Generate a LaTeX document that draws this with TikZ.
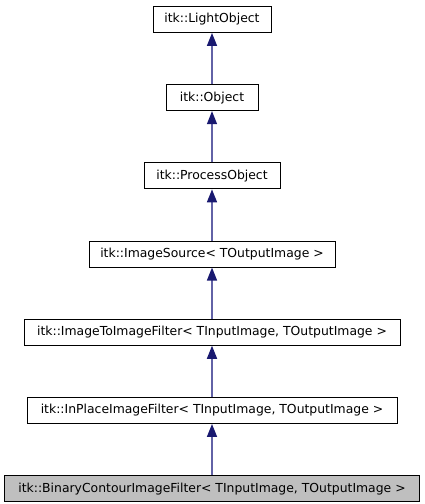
\documentclass[tikz,border=0pt]{standalone}
\usepackage{fontspec}
\setmainfont{DejaVu Sans}
\usepackage{tikz}
\usetikzlibrary{arrows.meta,positioning}
\usepackage{xcolor}
\definecolor{edgenavy}{HTML}{191970}
\definecolor{edgeline}{HTML}{6262A6}
\definecolor{basegray}{HTML}{BFBFBF}

\begin{document}
\begin{tikzpicture}[
  x=1pt, y=-1pt,
  node distance=51.3pt,
  cls/.style={draw=black, fill=white, line width=0.9pt, minimum height=26pt, inner sep=0pt, font=\fontsize{12.4}{14}\selectfont},
  self/.style={cls, fill=basegray},
  inherit/.style={-{Triangle[length=13pt, width=10pt, fill=edgenavy, color=edgenavy]}, line width=1.5pt, draw=edgeline}
]
\useasboundingbox (0,0) rectangle (424,504);
\node[cls, minimum width=118pt] (lightobj) at (212,19.5) {itk::LightObject};
\node[cls, minimum width=92pt, below=of lightobj] (object) {itk::Object};
\node[cls, minimum width=136pt, below=of object] (procobj) {itk::ProcessObject};
\node[cls, minimum width=246pt, below=of procobj] (imgsource) {itk::ImageSource< TOutputImage >};
\node[cls, minimum width=376pt, below=of imgsource] (imgtoimg) {itk::ImageToImageFilter< TInputImage, TOutputImage >};
\node[cls, minimum width=370pt, below=of imgtoimg] (inplace) {itk::InPlaceImageFilter< TInputImage, TOutputImage >};
\node[self, minimum width=415pt, below=of inplace] (contour) {itk::BinaryContourImageFilter< TInputImage, TOutputImage >};
\draw[inherit] (object) -- (lightobj);
\draw[inherit] (procobj) -- (object);
\draw[inherit] (imgsource) -- (procobj);
\draw[inherit] (imgtoimg) -- (imgsource);
\draw[inherit] (inplace) -- (imgtoimg);
\draw[inherit] (contour) -- (inplace);
\end{tikzpicture}
\end{document}
